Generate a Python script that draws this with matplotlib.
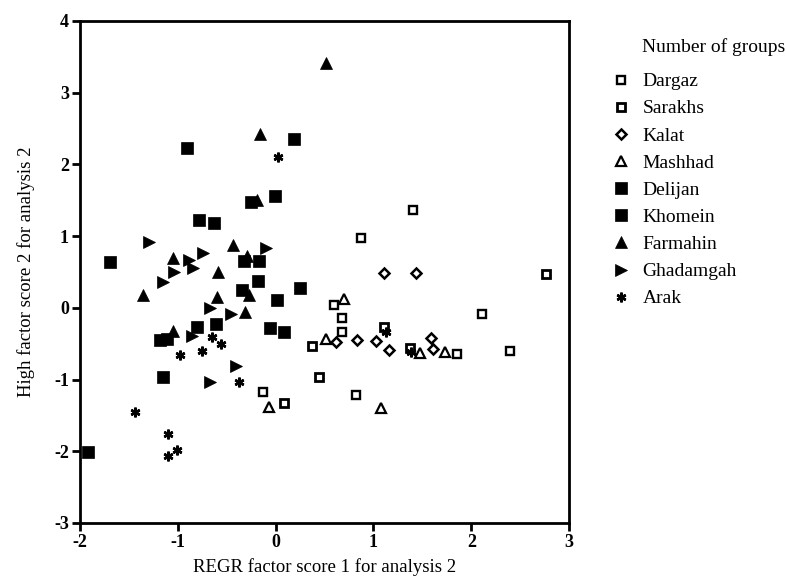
import matplotlib
matplotlib.use("Agg")
import matplotlib.pyplot as plt

plt.rcParams['font.family'] = ['Liberation Serif', 'DejaVu Serif']
plt.rcParams['axes.unicode_minus'] = False

# Factor scores (x = factor 1, y = factor 2)
dargaz_x = [1.40, 0.87, 0.60, 0.68, 2.11, 0.68, 1.85, 2.40, 0.82, -0.13]
dargaz_y = [1.36, 0.98, 0.04, -0.14, -0.08, -0.34, -0.64, -0.60, -1.22, -1.18]

sarakhs_x = [2.76, 0.37, 0.44, 0.09, 1.37, 1.11]
sarakhs_y = [0.47, -0.53, -0.96, -1.32, -0.56, -0.27]

kalat_x = [1.11, 1.44, 0.62, 0.83, 1.03, 1.16, 1.59, 1.61]
kalat_y = [0.48, 0.48, -0.47, -0.45, -0.46, -0.59, -0.42, -0.57]

mashhad_x = [0.70, 0.52, 1.48, 1.73, 1.08, -0.07]
mashhad_y = [0.13, -0.44, -0.63, -0.61, -1.39, -1.38]

delijan_x = [-0.18, -0.34, -1.18, 0.25, -0.25, -0.06, -1.15]
delijan_y = [0.38, 0.25, -0.45, 0.27, 1.47, -0.28, -0.97]

khomein_x = [0.19, -0.91, -0.01, -0.78, -0.63, -1.69, -0.32, -0.17, 0.01,
             -0.80, -0.61, 0.09, -1.11, -1.92]
khomein_y = [2.35, 2.23, 1.56, 1.23, 1.19, 0.64, 0.66, 0.66, 0.11,
             -0.27, -0.23, -0.33, -0.43, -2.01]

farmahin_x = [0.52, -0.16, -0.19, -0.44, -1.05, -0.29, -0.59, -1.36, -0.27,
              -0.60, -0.31, -1.05]
farmahin_y = [3.41, 2.42, 1.50, 0.88, 0.69, 0.72, 0.50, 0.18, 0.18,
              0.15, -0.06, -0.32]

ghadamgah_x = [-1.29, -0.74, -0.10, -0.89, -1.04, -0.84, -1.15, -0.67, -0.46,
               -0.86, -0.41, -0.67]
ghadamgah_y = [0.92, 0.77, 0.83, 0.67, 0.50, 0.56, 0.36, 0.00, -0.08,
               -0.39, -0.81, -1.04]

arak_x = [0.02, -0.65, -0.56, -0.98, -0.75, -0.37, -1.44, -1.10, -1.10,
          -1.01, 1.13, 1.38]
arak_y = [2.10, -0.41, -0.51, -0.66, -0.60, -1.04, -1.45, -1.76, -2.06,
          -1.98, -0.33, -0.62]

groups = ['Dargaz', 'Sarakhs', 'Kalat', 'Mashhad', 'Delijan', 'Khomein',
          'Farmahin', 'Ghadamgah', 'Arak']
xs = [dargaz_x, sarakhs_x, kalat_x, mashhad_x, delijan_x, khomein_x,
      farmahin_x, ghadamgah_x, arak_x]
ys = [dargaz_y, sarakhs_y, kalat_y, mashhad_y, delijan_y, khomein_y,
      farmahin_y, ghadamgah_y, arak_y]

# marker styles per group
styles = [
    dict(marker='s', ms=5.5, mfc='white', mec='black', mew=1.7),
    dict(marker='s', ms=5.5, mfc='white', mec='black', mew=2.0),
    dict(marker='D', ms=5.5, mfc='white', mec='black', mew=1.8),
    dict(marker='^', ms=7, mfc='white', mec='black', mew=1.6),
    dict(marker='s', ms=8, mfc='black', mec='black', mew=0.5),
    dict(marker='s', ms=8, mfc='black', mec='black', mew=0.5),
    dict(marker='^', ms=9, mfc='black', mec='black', mew=0.5),
    dict(marker='>', ms=9, mfc='black', mec='black', mew=0.5),
    dict(marker=(6, 2, 0), ms=7, mfc='black', mec='black', mew=1.8),
]

fig = plt.figure(figsize=(7.86, 5.8), dpi=100)
ax = fig.add_axes([0.1018, 0.0983, 0.6222, 0.8655])

handles = []
for name, x, y, st in zip(groups, xs, ys, styles):
    h, = ax.plot(x, y, linestyle='none', label=name, **st)
    handles.append(h)

ax.set_xlim(-2, 3)
ax.set_ylim(-3, 4)
ax.set_xticks(range(-2, 4))
ax.set_yticks(range(-3, 5))

for s in ax.spines.values():
    s.set_linewidth(2.0)
ax.tick_params(direction='out', length=6, width=2, labelsize=13, pad=2)
for lab in ax.get_xticklabels() + ax.get_yticklabels():
    lab.set_fontweight('bold')

ax.set_xlabel('REGR factor score 1 for analysis 2', fontsize=13.5, labelpad=5)
ax.set_ylabel('High factor score 2 for analysis 2', fontsize=13.5, labelpad=14)

# legend: title as separate text so it lines up with the entry labels
fig.text(0.8168, 0.919, 'Number of groups', fontsize=14, va='center', ha='left')
fig.legend(handles=handles, loc='upper left', bbox_to_anchor=(0.768, 0.888),
           frameon=False, fontsize=14, labelspacing=0.49, handletextpad=0.6,
           handlelength=1.0, borderaxespad=0)

fig.savefig('out.png', dpi=100, facecolor='white')
